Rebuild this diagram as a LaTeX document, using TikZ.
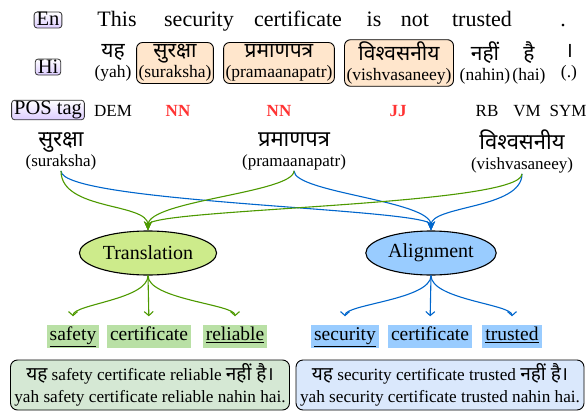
\documentclass[tikz,border=0pt]{standalone}
\usepackage{fontspec}
\setmainfont{Liberation Serif}
\newfontfamily\hindi[Script=Devanagari]{Noto Sans}
\usepackage{xcolor}
\usetikzlibrary{positioning,arrows.meta,shapes.geometric}

\definecolor{trgreen}{HTML}{4D9900}
\definecolor{alblue}{HTML}{0066CC}
\definecolor{trfill}{HTML}{CDEB8B}
\definecolor{alfill}{HTML}{99CCFF}
\definecolor{hifill}{HTML}{FFE6CC}
\definecolor{tagfill}{HTML}{DCCCFF}
\definecolor{wordgreen}{HTML}{B9E0A5}
\definecolor{sentgreen}{HTML}{D5E8D4}
\definecolor{sentblue}{HTML}{DAE8FC}
\definecolor{tagred}{HTML}{FF3333}

\newcommand{\hiword}[1]{{\hindi\fontsize{21}{21}\selectfont #1\vphantom{प्रक्षु}}}

\tikzset{
  langtag/.style={draw=black!80, line width=0.8pt, rounded corners=3pt, top color=white, bottom color=tagfill,
    inner xsep=2.5pt, inner ysep=1pt, text height=13pt, text depth=1pt, font=\fontsize{20.5}{20.5}\selectfont},
  enword/.style={anchor=base, font=\fontsize{22}{22}\selectfont},
  hiword/.style={align=center, inner xsep=2pt, inner ysep=2pt, font=\fontsize{17.5}{20}\selectfont},
  hibox/.style={hiword, draw, line width=0.9pt, rounded corners=6pt, fill=hifill},
  postag/.style={anchor=base, font=\fontsize{17}{17}\selectfont},
  keytag/.style={postag, text=tagred, font=\fontsize{17}{17}\selectfont\bfseries},
  srcword/.style={align=center, inner sep=1pt, font=\fontsize{17}{20}\selectfont},
  engine/.style={ellipse, draw, line width=1.1pt, minimum width=108pt, minimum height=44pt,
    font=\fontsize{20}{20}\selectfont},
  outword/.style={inner xsep=3pt, inner ysep=2pt, text height=14pt, text depth=5pt,
    font=\fontsize{19.5}{19.5}\selectfont},
  sentbox/.style={draw, line width=0.9pt, rounded corners=7pt, align=center, minimum height=50pt,
    inner sep=1pt, font=\fontsize{17.2}{22}\selectfont},
  inarr/.style={line width=1.1pt, -{Stealth[length=9pt,width=8pt]}},
  outarr/.style={line width=1.1pt, -{Straight Barb[length=4pt,width=9pt]}, shorten >=8pt}
}

\begin{document}
\begin{tikzpicture}[x=1pt,y=-1pt]
    \useasboundingbox (0,0) rectangle (588,412);

    % English sentence
    \node[langtag] (en) at (48,20) {En};
    \node[enword] (e1) at (117,27) {This};
    \node[enword] (e2) at (199,27) {security};
    \node[enword] (e3) at (298,27) {certificate};
    \node[enword] (e4) at (374,27) {is};
    \node[enword] (e5) at (415,27) {not};
    \node[enword] (e6) at (482,27) {trusted};
    \node[enword] (e7) at (563,27) {.};

    % Hindi sentence
    \node[langtag] (hi) at (48,67) {Hi};
    \node[hiword] (h1) at (113,63) {\hiword{यह}\\(yah)};
    \node[hibox] (h2) at (175,63) {\hiword{सुरक्षा}\\(suraksha)};
    \node[hibox] (h3) at (279,63) {\hiword{प्रमाणपत्र}\\(pramaanapatr)};
    \node[hibox] (h4) at (399,63) {\hiword{विश्वसनीय}\\(vishvasaneey)};
    \node[hiword] (h5) at (485,63) {\hiword{नहीं}\\(nahin)};
    \node[hiword] (h6) at (529,63) {\hiword{है}\\(hai)};
    \node[hiword] (h7) at (569,63) {\hiword{।}\\(.)};

    % POS tags
    \node[langtag, text depth=4.5pt] (pos) at (48,110) {POS tag};
    \node[postag] (t1) at (113,116) {DEM};
    \node[keytag] (t2) at (178,116) {NN};
    \node[keytag] (t3) at (279,116) {NN};
    \node[keytag] (t4) at (398,116) {JJ};
    \node[postag] (t5) at (487,116) {RB};
    \node[postag] (t6) at (527,116) {VM};
    \node[postag] (t7) at (568,116) {SYM};

    % selected source words
    \node[srcword] (s1) at (61,151) {{\hindi\fontsize{22}{22}\selectfont सुरक्षा}\\(suraksha)};
    \node[srcword] (s2) at (294,151) {{\hindi\fontsize{22}{22}\selectfont प्रमाणपत्र}\\(pramaanapatr)};
    \node[srcword] (s3) at (522,151) {{\hindi\fontsize{22}{22}\selectfont विश्वसनीय}\\(vishvasaneey)};

    % two modules
    \node[engine, fill=trfill] (tr) at (148,253) {Translation};
    \node[engine, fill=alfill] (al) at (431,253) {Alignment};

    % inputs
    \draw[inarr, alblue] (s1.south) .. controls +(0,32) and +(0,-22) .. (al.north);
    \draw[inarr, alblue] (s2.south) .. controls +(0,22) and +(0,-30) .. (al.north);
    \draw[inarr, alblue] (s3.south) .. controls +(0,35) and +(0,-25) .. (al.north);
    \draw[inarr, trgreen] (s1.south) .. controls +(0,40) and +(0,-28) .. (tr.north);
    \draw[inarr, trgreen] (s2.south) .. controls +(0,22) and +(0,-30) .. (tr.north);
    \draw[inarr, trgreen] (s3.south) .. controls +(0,32) and +(0,-22) .. (tr.north);

    % translated words
    \node[outword, fill=wordgreen] (o1) at (73,336) {\underline{safety}};
    \node[outword, fill=wordgreen] (o2) at (149,336) {certificate};
    \node[outword, fill=wordgreen] (o3) at (235,336) {\underline{reliable}};
    \node[outword, fill=alfill] (o4) at (345,336) {\underline{security}};
    \node[outword, fill=alfill] (o5) at (430,336) {certificate};
    \node[outword, fill=alfill] (o6) at (512,336) {\underline{trusted}};

    % outputs
    \draw[outarr, trgreen] (tr.south) .. controls +(0,24) and +(0,-20) .. (o1.north);
    \draw[outarr, trgreen] (tr.south) -- (o2.north);
    \draw[outarr, trgreen] (tr.south) .. controls +(0,24) and +(0,-20) .. (o3.north);
    \draw[outarr, alblue] (al.south) .. controls +(0,24) and +(0,-20) .. (o4.north);
    \draw[outarr, alblue] (al.south) -- (o5.north);
    \draw[outarr, alblue] (al.south) .. controls +(0,24) and +(0,-20) .. (o6.north);

    % resulting sentences
    \node[sentbox, fill=sentgreen, minimum width=279pt] (r1) at (150,385)
      {{\hindi\fontsize{19}{19}\selectfont यह} safety certificate reliable {\hindi\fontsize{19}{19}\selectfont नहीं है।}\\yah safety certificate reliable nahin hai.};
    \node[sentbox, fill=sentblue, minimum width=288pt] (r2) at (440,385)
      {{\hindi\fontsize{19}{19}\selectfont यह} security certificate trusted {\hindi\fontsize{19}{19}\selectfont नहीं है।}\\yah security certificate trusted nahin hai.};
\end{tikzpicture}
\end{document}
